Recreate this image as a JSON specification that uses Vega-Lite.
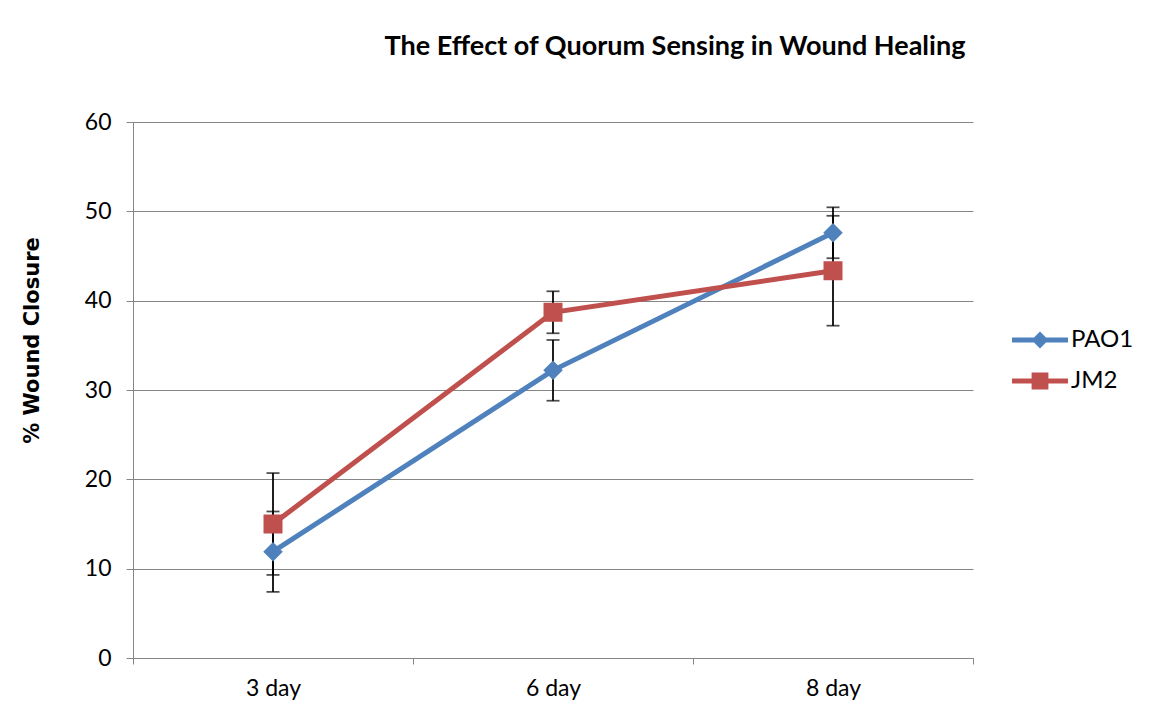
{
  "$schema": "https://vega.github.io/schema/vega-lite/v6.json",
  "autosize": {"type": "none"},
  "width": 840,
  "height": 536,
  "padding": {"left": 133, "top": 122, "right": 195, "bottom": 65},
  "background": "white",
  "title": {
    "text": "The Effect of Quorum Sensing in Wound Healing",
    "font": "Lato",
    "fontSize": 27,
    "fontWeight": "bold",
    "color": "black",
    "anchor": "middle",
    "dx": 122,
    "offset": 50
  },
  "data": {
    "values": [
      {"day": "3 day", "series": "PAO1", "value": 11.9, "lo": 7.4, "hi": 16.4},
      {"day": "3 day", "series": "JM2", "value": 15.0, "lo": 9.3, "hi": 20.7},
      {"day": "6 day", "series": "PAO1", "value": 32.2, "lo": 28.8, "hi": 35.6},
      {"day": "6 day", "series": "JM2", "value": 38.7, "lo": 36.35, "hi": 41.05},
      {"day": "8 day", "series": "PAO1", "value": 47.6, "lo": 44.75, "hi": 50.45},
      {"day": "8 day", "series": "JM2", "value": 43.35, "lo": 37.2, "hi": 49.5}
    ]
  },
  "encoding": {
    "x": {
      "field": "day",
      "type": "nominal",
      "sort": ["3 day", "6 day", "8 day"],
      "scale": {"type": "band", "paddingInner": 0, "paddingOuter": 0},
      "axis": {
        "title": null,
        "labelAngle": 0,
        "labelFont": "Lato",
        "labelFontSize": 23,
        "labelColor": "black",
        "labelPadding": 13,
        "tickBand": "extent",
        "tickSize": 6,
        "tickColor": "#868686",
        "domainColor": "#868686",
        "grid": false
      }
    },
    "color": {
      "field": "series",
      "type": "nominal",
      "scale": {"domain": ["PAO1", "JM2"], "range": ["#4F81BD", "#C0504D"]},
      "legend": {
        "encode": {
          "symbols": {
            "update": {
              "shape": {"signal": "datum.value === 'PAO1' ? 'M-2,-0.18H2V0.18H-2Z M0,-0.6L0.6,0L0,0.6L-0.6,0Z' : 'M-2,-0.18H2V0.18H-2Z M-0.6,-0.6H0.6V0.6H-0.6Z'"},
              "fill": {"signal": "datum.value === 'PAO1' ? '#4F81BD' : '#C0504D'"},
              "fillOpacity": {"value": 1},
              "strokeWidth": {"value": 0}
            }
          }
        }
      }
    }
  },
  "layer": [
    {
      "mark": {"type": "rule", "color": "black", "strokeWidth": 1.75},
      "encoding": {
        "y": {"field": "lo", "type": "quantitative"},
        "y2": {"field": "hi"},
        "color": {"value": "black"}
      }
    },
    {
      "mark": {"type": "tick", "color": "black", "size": 13, "thickness": 1.75},
      "encoding": {"y": {"field": "lo", "type": "quantitative"}, "color": {"value": "black"}}
    },
    {
      "mark": {"type": "tick", "color": "black", "size": 13, "thickness": 1.75},
      "encoding": {"y": {"field": "hi", "type": "quantitative"}, "color": {"value": "black"}}
    },
    {
      "mark": {"type": "line", "strokeWidth": 5},
      "encoding": {
        "y": {
          "field": "value",
          "type": "quantitative",
          "scale": {"domain": [0, 60]},
          "axis": {
            "title": "% Wound Closure",
            "titleFont": "DejaVu Sans",
            "titleFontSize": 21,
            "titleFontWeight": "bold",
            "titleColor": "black",
            "titleAngle": -90,
            "titleX": -101,
            "titleY": 218,
            "titleAlign": "center",
            "titleBaseline": "middle",
            "values": [0, 10, 20, 30, 40, 50, 60],
            "labelFont": "Lato",
            "labelFontSize": 23,
            "labelColor": "black",
            "labelPadding": 15,
            "tickSize": 7,
            "tickColor": "#868686",
            "domainColor": "#868686",
            "grid": true,
            "gridColor": "#868686",
            "gridWidth": 1
          }
        }
      }
    },
    {
      "transform": [{"filter": "datum.series === 'PAO1'"}],
      "mark": {"type": "point", "filled": true, "opacity": 1, "shape": "diamond", "size": 380},
      "encoding": {"y": {"field": "value", "type": "quantitative"}}
    },
    {
      "transform": [{"filter": "datum.series === 'JM2'"}],
      "mark": {"type": "point", "filled": true, "opacity": 1, "shape": "square", "size": 361},
      "encoding": {"y": {"field": "value", "type": "quantitative"}}
    }
  ],
  "config": {
    "view": {"stroke": null},
    "font": "Lato",
    "legend": {
      "title": null,
      "orient": "none",
      "legendX": 893,
      "legendY": 204,
      "padding": 0,
      "symbolSize": 784,
      "rowPadding": 15,
      "labelOffset": 17,
      "labelFont": "Lato",
      "labelFontSize": 24,
      "labelColor": "black"
    }
  }
}
